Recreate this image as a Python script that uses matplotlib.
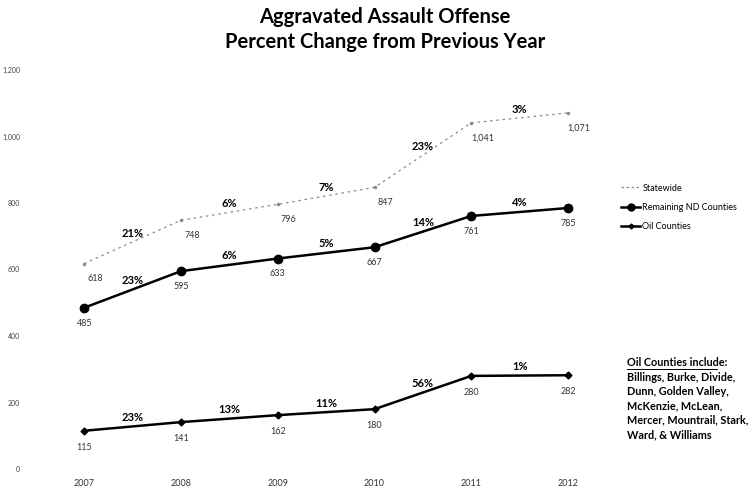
import numpy as np
import matplotlib
matplotlib.use('Agg')
import matplotlib.pyplot as plt
from matplotlib.lines import Line2D

plt.rcParams['font.family'] = ['Lato', 'DejaVu Sans']

years = [2007, 2008, 2009, 2010, 2011, 2012]
statewide = [618, 748, 796, 847, 1041, 1071]
remaining = [485, 595, 633, 667, 761, 785]
oil = [115, 141, 162, 180, 280, 282]

statewide_pct = ['21%', '6%', '7%', '23%', '3%']
remaining_pct = ['23%', '6%', '5%', '14%', '4%']
oil_pct = ['23%', '13%', '11%', '56%', '1%']

statewide_lbl = ['618', '748', '796', '847', '1,041', '1,071']
remaining_lbl = ['485', '595', '633', '667', '761', '785']
oil_lbl = ['115', '141', '162', '180', '280', '282']

yticks = [0, 200, 400, 600, 800, 1000, 1200]

note_lines = ['Oil Counties include:', 'Billings, Burke, Divide,', 'Dunn, Golden Valley,',
              'McKenzie, McLean,', 'Mercer, Mountrail, Stark,', 'Ward, & Williams']

W, H = 752, 491
fig = plt.figure(figsize=(W / 100, H / 100), dpi=100)
ax = fig.add_axes([30 / W, 22 / H, 570 / W, 399 / H])

ax.plot(years, statewide, color='#8a8a8a', linestyle=(0, (2, 3)), linewidth=0.9,
        marker='o', markersize=1.5, label='Statewide')
ax.plot(years, remaining, color='black', linewidth=1.8, marker='o', markersize=6,
        label='Remaining ND Counties')
ax.plot(years, oil, color='black', linewidth=1.8, marker='D', markersize=3.5,
        label='Oil Counties')

ax.set_xlim(2006.44, 2012.33)
ax.set_ylim(0, 1200)
ax.set_xticks(years)
ax.set_xticklabels([str(y) for y in years], fontsize=6.5, color='#333333')
ax.set_yticks(yticks)
ax.set_yticklabels(['{:,}'.format(v) for v in yticks], fontsize=5, color='#444444')
ax.tick_params(length=0, pad=7)
for s in ax.spines.values():
    s.set_visible(False)

# value labels (offsets in points, 1px = 0.72pt)
for x, v, t in zip(years, statewide, statewide_lbl):
    ax.annotate(t, (x, v), xytext=(8, -11), textcoords='offset points',
                ha='center', va='center', fontsize=6.5, color='#333333')
for x, v, t in zip(years, remaining, remaining_lbl):
    ax.annotate(t, (x, v), xytext=(0, -11), textcoords='offset points',
                ha='center', va='center', fontsize=6.5, color='#333333')
for x, v, t in zip(years, oil, oil_lbl):
    ax.annotate(t, (x, v), xytext=(0, -12), textcoords='offset points',
                ha='center', va='center', fontsize=6.5, color='#333333')

# percent change labels
def pct_labels(vals, labels, dy):
    for i, t in enumerate(labels):
        xm = (years[i] + years[i + 1]) / 2
        ym = (vals[i] + vals[i + 1]) / 2
        ax.annotate(t, (xm, ym), xytext=(0, dy), textcoords='offset points',
                    ha='center', va='center', fontsize=8, fontweight='bold')

pct_labels(statewide, statewide_pct, 6)
pct_labels(remaining, remaining_pct, 6.5)
pct_labels(oil, oil_pct, 6.5)

fig.text(385 / W, 1 - 17 / H, 'Aggravated Assault Offense', ha='center', va='center',
         fontsize=14.5, fontweight='bold')
fig.text(385 / W, 1 - 42 / H, 'Percent Change from Previous Year', ha='center',
         va='center', fontsize=14.5, fontweight='bold')

handles = [
    Line2D([], [], color='#8a8a8a', linestyle=(0, (2, 2)), linewidth=0.9),
    Line2D([], [], color='black', linewidth=1.8, marker='o', markersize=5),
    Line2D([], [], color='black', linewidth=1.8, marker='D', markersize=2.5),
]
fig.legend(handles, ['Statewide', 'Remaining ND Counties', 'Oil Counties'],
           loc='upper left', bbox_to_anchor=(617 / W, 1 - 180 / H),
           frameon=False, fontsize=6.5, handlelength=2.2, handletextpad=0.2,
           labelspacing=1.15, borderaxespad=0)

for i, line in enumerate(note_lines):
    fig.text(627 / W, 1 - (363 + i * 14.3) / H, line, fontsize=7.8,
             fontweight='bold', va='center')
fig.add_artist(Line2D([627 / W, 717 / W], [1 - 369 / H, 1 - 369 / H],
                      color='black', linewidth=0.7))

fig.savefig('out.png', dpi=100)
